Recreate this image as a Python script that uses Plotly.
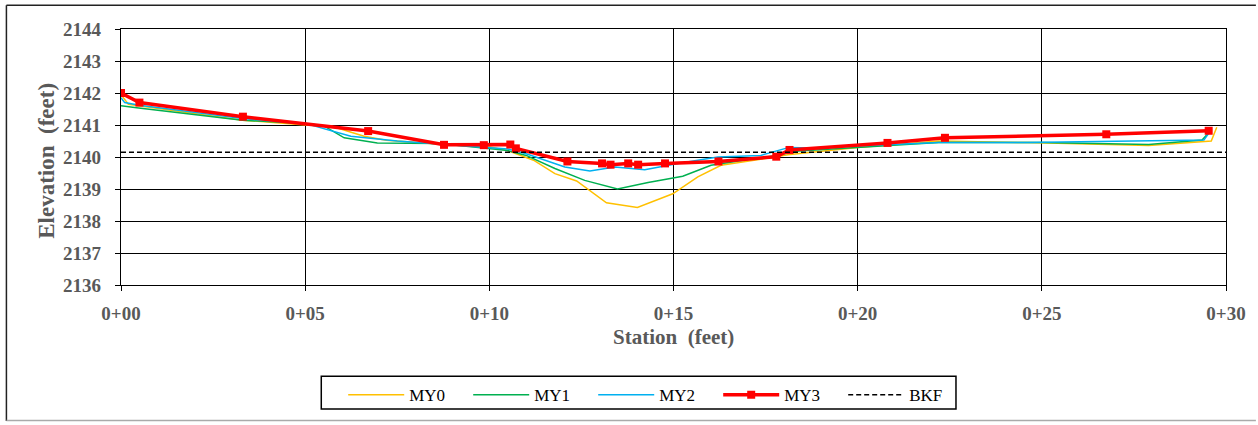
import plotly.graph_objects as go

# ---------------- data ----------------
tick_vals = [0, 5, 10, 15, 20, 25, 30]
tick_text = ["0+00", "0+05", "0+10", "0+15", "0+20", "0+25", "0+30"]
y_ticks = [2136, 2137, 2138, 2139, 2140, 2141, 2142, 2143, 2144]

my0_x = [0, 0.2, 3.3, 5.0, 5.7, 6.6, 7.2, 8.7, 10.0, 10.5, 11.2, 11.78, 12.37, 13.18, 14.02,
         14.98, 15.66, 16.29, 17.5, 18.1, 20.0, 22.2, 24.6, 27.9, 29.6, 29.75]
my0_y = [2141.95, 2141.65, 2141.15, 2141.0, 2140.97, 2140.65, 2140.52, 2140.40, 2140.32, 2140.2,
         2139.9, 2139.48, 2139.25, 2138.57, 2138.42, 2138.85, 2139.38, 2139.74, 2139.95, 2140.07,
         2140.3, 2140.5, 2140.45, 2140.36, 2140.5, 2140.93]

my1_x = [0, 0.48, 3.3, 5.0, 5.5, 6.06, 6.96, 8.64, 10.5, 11.0, 11.78, 12.59, 13.48, 14.31, 15.25,
         16.02, 17.19, 17.82, 18.3, 20.8, 22.2, 25.0, 27.9, 29.35, 29.5]
my1_y = [2141.6, 2141.53, 2141.15, 2141.05, 2140.98, 2140.6, 2140.44, 2140.42, 2140.2, 2140.05,
         2139.64, 2139.27, 2139.0, 2139.2, 2139.4, 2139.74, 2139.95, 2140.05, 2140.18, 2140.34,
         2140.45, 2140.45, 2140.39, 2140.53, 2140.72]

my2_x = [0, 0.1, 0.5, 3.3, 5.0, 6.24, 7.5, 8.8, 10.5, 11.0, 12.05, 12.73, 13.41, 14.22, 15.12,
         16.2, 17.37, 18.14, 18.72, 22.2, 24.6, 29.4, 29.55]
my2_y = [2141.85, 2141.7, 2141.62, 2141.2, 2141.05, 2140.65, 2140.5, 2140.4, 2140.25, 2140.1,
         2139.69, 2139.56, 2139.69, 2139.6, 2139.8, 2140.0, 2140.05, 2140.3, 2140.28, 2140.45,
         2140.45, 2140.53, 2140.77]

my3_x = [0, 0.5, 3.31, 6.71, 8.77, 9.85, 10.57, 10.72, 12.12, 13.06, 13.29, 13.77, 14.04, 14.77,
         16.22, 17.79, 18.15, 20.81, 22.37, 26.75, 29.53]
my3_y = [2142.0, 2141.70, 2141.26, 2140.81, 2140.38, 2140.37, 2140.39, 2140.27, 2139.86, 2139.80,
         2139.76, 2139.80, 2139.76, 2139.80, 2139.86, 2140.01, 2140.22, 2140.44, 2140.60, 2140.71,
         2140.82]

bkf_x = [0, 30]
bkf_y = [2140.15, 2140.15]

# ---------------- figure ----------------
W, H = 1258, 425
L, R, T, B = 121, 28, 29, 138
pw, ph = W - L - R, H - T - B


def px(x):
    return (x - L) / pw


def py(y):
    return (H - B - y) / ph


fig = go.Figure()
fig.add_trace(go.Scatter(x=my0_x, y=my0_y, mode="lines", name="MY0",
                         line=dict(color="#FFC000", width=1.5)))
fig.add_trace(go.Scatter(x=my1_x, y=my1_y, mode="lines", name="MY1",
                         line=dict(color="#00B050", width=1.5)))
fig.add_trace(go.Scatter(x=my2_x, y=my2_y, mode="lines", name="MY2",
                         line=dict(color="#00B0F0", width=1.5)))
fig.add_trace(go.Scatter(x=my3_x, y=my3_y, mode="lines+markers", name="MY3",
                         line=dict(color="#FF0000", width=3.5),
                         marker=dict(symbol="square", size=8, color="#FF0000")))
fig.add_trace(go.Scatter(x=bkf_x, y=bkf_y, mode="lines", name="BKF",
                         line=dict(color="black", width=1.5, dash="5px,3px")))

serif = "Liberation Serif"
tick_font = dict(family=serif, size=19, color="#595959", weight=700)

fig.update_xaxes(range=[0, 30], tickvals=tick_vals, ticktext=tick_text,
                 showgrid=True, gridcolor="black", gridwidth=1.3,
                 showline=True, linecolor="black", linewidth=1.3, mirror=True,
                 ticks="outside", ticklen=5, tickcolor="black", tickwidth=1.3,
                 tickfont=tick_font, ticklabelstandoff=6, zeroline=False)
fig.update_yaxes(range=[2136, 2144], tickvals=y_ticks,
                 showgrid=True, gridcolor="black", gridwidth=1.3,
                 showline=True, linecolor="black", linewidth=1.3, mirror=True,
                 ticks="outside", ticklen=5, tickcolor="black", tickwidth=1.3,
                 tickfont=tick_font, ticklabelstandoff=10, zeroline=False)

title_font = dict(family=serif, color="#595959", weight=700)
fig.add_annotation(text="Station  (feet)", xref="paper", yref="paper",
                   x=px(676), y=py(339), showarrow=False,
                   font=dict(size=21, **title_font), xanchor="center", yanchor="middle")
fig.add_annotation(text="Elevation  (feet)", xref="paper", yref="paper",
                   x=px(46.5), y=py(162), showarrow=False, textangle=-90,
                   font=dict(size=23, **title_font), xanchor="center", yanchor="middle")

# outer frame
fig.add_shape(type="line", xref="paper", yref="paper", x0=px(6), x1=px(6), y0=py(5), y1=py(424),
              line=dict(color="#222222", width=1.5))
fig.add_shape(type="line", xref="paper", yref="paper", x0=px(6), x1=px(1260), y0=py(5), y1=py(5),
              line=dict(color="#222222", width=1.5))
fig.add_shape(type="line", xref="paper", yref="paper", x0=px(6), x1=px(1260), y0=py(423.5), y1=py(423.5),
              line=dict(color="#AAAAAA", width=1.5))
# legend box
fig.add_shape(type="rect", xref="paper", yref="paper", x0=px(322), x1=px(959), y0=py(379), y1=py(412),
              line=dict(color="black", width=1.5), fillcolor="white", layer="below")

fig.update_layout(
    width=W, height=H, autosize=False,
    margin=dict(l=L, r=R, t=T, b=B, pad=0),
    paper_bgcolor="white", plot_bgcolor="white",
    showlegend=True,
    legend=dict(orientation="h", x=px(344), y=py(380), xanchor="left", yanchor="top",
                borderwidth=0, bgcolor="rgba(0,0,0,0)",
                font=dict(family=serif, size=17, color="black"),
                itemwidth=56, entrywidth=54, tracegroupgap=0),
)

fig.write_html("out.html")
